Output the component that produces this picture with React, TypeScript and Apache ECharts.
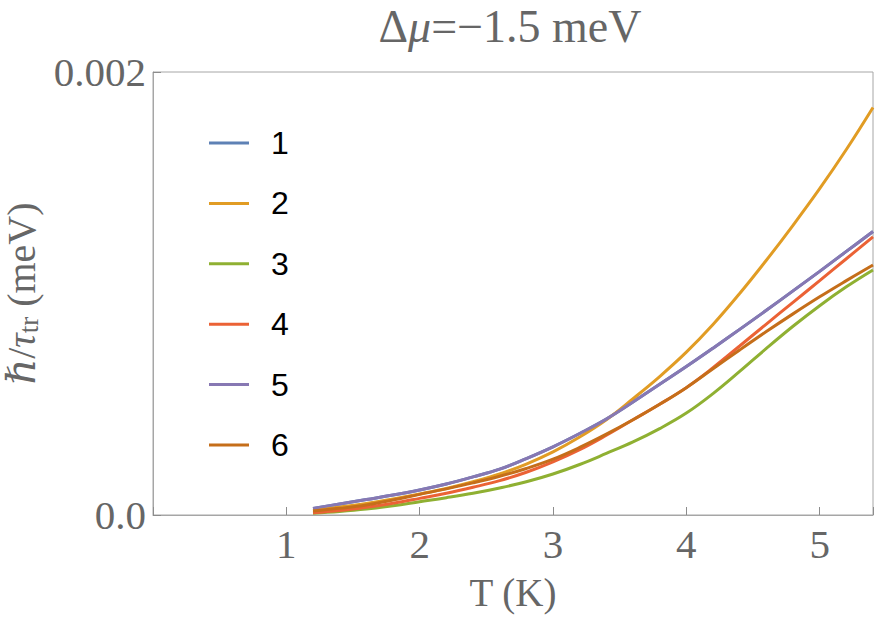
import React, { useEffect, useRef } from "react";
import * as echarts from "echarts";

const temps = [1.2, 1.4, 1.6, 1.8, 2.0, 2.2, 2.4, 2.6, 2.8, 3.0, 3.2, 3.4, 3.6, 3.8, 4.0, 4.2, 4.4, 4.6, 4.8, 5.0, 5.2, 5.4];
const s1 = [0.00003, 0.00005, 0.00007, 0.00009, 0.000113, 0.00014, 0.000172, 0.000207, 0.000255, 0.000308, 0.000368, 0.000433, 0.00051, 0.00059, 0.00067, 0.000753, 0.000838, 0.000924, 0.001012, 0.0011, 0.00119, 0.00128];
const s2 = [0.000022, 0.000036, 0.000052, 0.000072, 0.000095, 0.00012, 0.00015, 0.000185, 0.00023, 0.000285, 0.000352, 0.00043, 0.000525, 0.000625, 0.000735, 0.00086, 0.001, 0.00115, 0.001308, 0.001473, 0.00165, 0.00184];
const s3 = [0.000008, 0.000016, 0.000027, 0.000042, 0.00006, 0.000078, 0.000098, 0.000122, 0.00015, 0.000185, 0.000228, 0.000278, 0.00033, 0.00039, 0.00046, 0.000548, 0.000648, 0.000752, 0.000852, 0.000945, 0.00103, 0.001106];
const s4 = [0.00001, 0.00002, 0.000035, 0.000053, 0.000075, 0.000098, 0.000125, 0.000155, 0.000193, 0.00024, 0.000295, 0.00036, 0.00043, 0.0005, 0.000575, 0.000665, 0.000763, 0.000862, 0.00096, 0.001058, 0.001157, 0.001256];
const s5 = [0.00003, 0.00005, 0.00007, 0.00009, 0.000113, 0.00014, 0.000172, 0.000207, 0.000255, 0.000308, 0.000368, 0.000433, 0.00051, 0.00059, 0.00067, 0.000753, 0.000838, 0.000924, 0.001012, 0.0011, 0.00119, 0.00128];
const s6 = [0.000018, 0.00003, 0.000045, 0.000068, 0.000093, 0.000118, 0.000145, 0.000175, 0.00021, 0.000252, 0.000305, 0.000365, 0.00043, 0.0005, 0.000575, 0.00066, 0.000745, 0.000828, 0.000908, 0.000985, 0.001058, 0.001129];

const seriesNames = ["1", "2", "3", "4", "5", "6"];
const seriesValues = [s1, s2, s3, s4, s5, s6];
const colors = ["#5E81B5", "#E19C24", "#8FB032", "#EB6235", "#8778B3", "#C56E1A"];
const xTickLabels = ["1", "2", "3", "4", "5"];
const yTickLabels: Record<string, string> = { "0": "0.0", "0.002": "0.002" };

const serif = "'Liberation Serif', 'DejaVu Serif', serif";
const sans = "'Liberation Sans', Arial, sans-serif";

export default function App() {
  const ref = useRef<HTMLDivElement>(null);
  useEffect(() => {
    if (!ref.current) return;
    const chart = echarts.init(ref.current, undefined, { renderer: "svg" });
    const option: any = {
      animation: false,
      backgroundColor: "#ffffff",
      title: {
        text: "Δ{i|μ}=−1.5 meV",
        left: 510,
        textAlign: "center",
        top: 3,
        padding: 0,
        textStyle: {
          fontFamily: serif,
          fontSize: 46,
          lineHeight: 46,
          fontWeight: "normal",
          color: "#666666",
          rich: {
            i: { fontFamily: serif, fontSize: 46, lineHeight: 46, fontStyle: "italic", color: "#666666" },
          },
        },
      },
      grid: {
        left: 153,
        top: 72,
        right: 5,
        bottom: 104,
        containLabel: false,
        outerBoundsMode: "none",
        show: true,
        borderColor: "#a6a6a6",
        borderWidth: 1,
      },
      legend: {
        orient: "vertical",
        left: 209,
        top: 127,
        padding: 0,
        icon: "rect",
        itemWidth: 40,
        itemHeight: 3,
        itemGap: 28.4,
        data: seriesNames,
        textStyle: {
          fontFamily: sans,
          fontSize: 32,
          color: "#000000",
          lineHeight: 32,
          padding: [0, 0, 0, 17],
        },
      },
      xAxis: {
        type: "value",
        min: 0,
        max: 5.4,
        interval: 1,
        name: "T (K)",
        nameLocation: "middle",
        nameGap: 58,
        nameTextStyle: { fontFamily: serif, fontSize: 39, color: "#666666" },
        axisLine: { show: true, lineStyle: { color: "#a6a6a6", width: 1 } },
        axisTick: { show: true, inside: true, length: 8, lineStyle: { color: "#8c8c8c" } },
        splitLine: { show: false },
        axisLabel: {
          fontFamily: serif,
          fontSize: 41,
          color: "#666666",
          margin: 8,
          formatter: (v: number) => (xTickLabels.includes(String(v)) ? String(v) : ""),
        },
      },
      yAxis: {
        type: "value",
        min: 0,
        max: 0.002,
        interval: 0.002,
        name: "{i|ℏ}/{i|τ}{sub|tr} (meV)",
        nameLocation: "middle",
        nameRotate: 90,
        nameGap: 106,
        nameTextStyle: {
          fontFamily: serif,
          fontSize: 40,
          color: "#666666",
          rich: {
            i: { fontFamily: serif, fontSize: 40, fontStyle: "italic", color: "#666666" },
            sub: { fontFamily: serif, fontSize: 27, color: "#666666", padding: [15, 0, 0, 0] },
          },
        },
        axisLine: { show: true, lineStyle: { color: "#a6a6a6", width: 1 } },
        axisTick: { show: true, inside: true, length: 8, lineStyle: { color: "#8c8c8c" } },
        splitLine: { show: false },
        axisLabel: {
          fontFamily: serif,
          fontSize: 41,
          color: "#666666",
          margin: 7,
          formatter: (v: number) => yTickLabels[String(v)] ?? "",
        },
      },
      series: seriesNames.map((name, i) => ({
        name,
        type: "line",
        smooth: 0.4,
        showSymbol: false,
        symbol: "none",
        color: colors[i],
        lineStyle: { color: colors[i], width: 3 },
        data: temps.map((t, j) => [t, seriesValues[i][j]]),
      })),
    };
    chart.setOption(option);
    return () => chart.dispose();
  }, []);
  return (
    <div
      ref={ref}
      style={{ position: "fixed", left: 0, top: 0, width: 878, height: 619 }}
    />
  );
}
